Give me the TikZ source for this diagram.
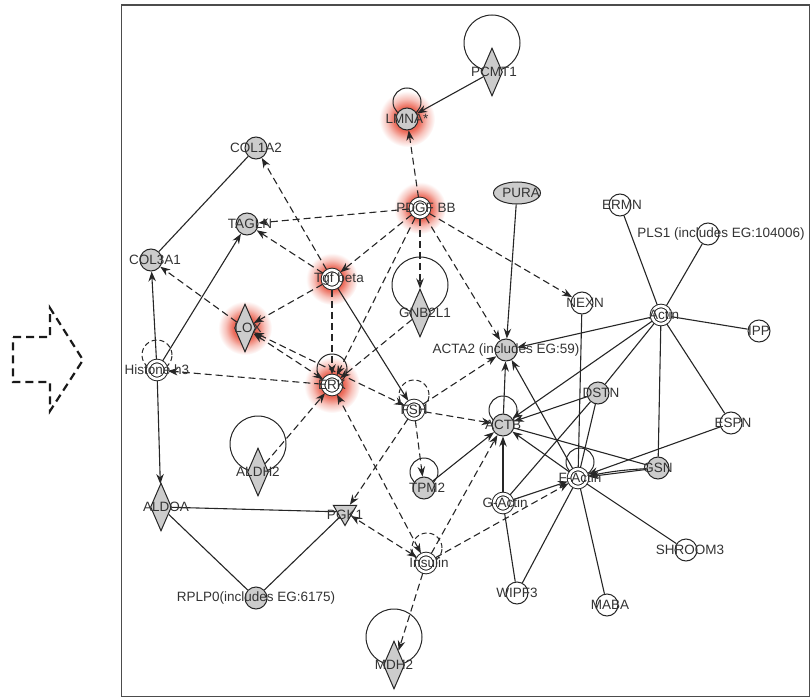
\documentclass[tikz,border=0pt]{standalone}
\usepackage{fontspec}
\setmainfont{Liberation Sans}
\usetikzlibrary{arrows.meta,shapes.geometric}
\definecolor{glowc}{RGB}{232,80,60}
\pgfdeclareradialshading{glow}{\pgfpointorigin}{color(0bp)=(glowc); color(11bp)=(glowc!85); color(18bp)=(glowc!35); color(25bp)=(white); color(50bp)=(white)}
\pgfdeclarelayer{bg}
\pgfsetlayers{bg,main}
\begin{document}
\begin{tikzpicture}[x=1pt,y=-1pt,
  lbl/.style={font=\fontsize{13.5}{16}\selectfont,text=black!80,inner sep=0pt},
  gene/.style={circle,draw=black!85,line width=1pt,fill=black!20,minimum size=22pt,inner sep=0pt},
  wgene/.style={gene,fill=white},
  cplx/.style={gene,fill=white,double=white,double distance=2.6pt,minimum size=18pt,outer sep=1.8pt},
  diam/.style={diamond,draw=black!85,line width=1pt,fill=black!20,minimum width=21pt,minimum height=48pt,inner sep=0pt},
  tri/.style={regular polygon,regular polygon sides=3,shape border rotate=180,draw=black!85,line width=1pt,fill=black!20,minimum size=27pt,inner sep=0pt},
  oval/.style={ellipse,draw=black!85,line width=1pt,fill=black!20,minimum width=47pt,minimum height=22pt,inner sep=0pt},
  rel/.style={line width=1.1pt,black!85},
  act/.style={rel,-{Stealth[length=10pt,width=7.5pt]}},
  dact/.style={act,dash pattern=on 7pt off 4pt},
  dboth/.style={dact,{Stealth[length=10pt,width=7.5pt]}-{Stealth[length=10pt,width=7.5pt]}},
  selfloop/.style={line width=1pt,black!85},
  dselfloop/.style={selfloop,dash pattern=on 5pt off 3pt}]
\useasboundingbox (0,0) rectangle (811,698);
\draw[black!70,line width=1.2pt] (121.5,5) rectangle (809.5,696.5);
\draw[line width=2.2pt,dash pattern=on 8pt off 5pt,black!90] (13,337) -- (50,337) -- (50,308) -- (83,360) -- (50,411) -- (50,382) -- (13,382) -- cycle;

\node[diam,label={[lbl,xshift=2pt]center:PCMT1}] (pcmt1) at (492,72) {};
\node[gene,label={[lbl]center:LMNA*}] (lmna) at (407,119) {};
\node[gene,label={[lbl]center:COL1A2}] (col1a2) at (256,148) {};
\node[cplx,label={[lbl,xshift=6pt]center:PDGF BB}] (pdgf) at (420,208) {};
\node[oval,label={[lbl,xshift=4pt]center:PURA}] (pura) at (517,193) {};
\node[wgene,label={[lbl,xshift=2pt]center:ERMN}] (ermn) at (620,205) {};
\node[wgene,label={[lbl,xshift=13pt]center:PLS1 (includes EG:104006)}] (pls1) at (708,234) {};
\node[gene,label={[lbl,xshift=3pt]center:TAGLN}] (tagln) at (247,224) {};
\node[gene,label={[lbl,xshift=4pt]center:COL3A1}] (col3a1) at (151,260) {};
\node[cplx,label={[lbl,xshift=7pt]center:Tgf beta}] (tgf) at (332,279) {};
\node[wgene,label={[lbl,xshift=3pt]center:NEXN}] (nexn) at (582,303) {};
\node[diam,label={[lbl,xshift=5pt]center:GNB2L1}] (gnb2l1) at (420,313) {};
\node[cplx,label={[lbl,xshift=3pt]center:Actin}] (actin) at (661,315) {};
\node[diam,label={[lbl,xshift=3pt]center:LOX}] (lox) at (245,328) {};
\node[wgene,label={[lbl]center:IPP}] (ipp) at (759,331) {};
\node[gene,label={[lbl]center:ACTA2 (includes EG:59)}] (acta2) at (506,350) {};
\node[cplx,label={[lbl]center:Histone h3}] (histone) at (157,370) {};
\node[cplx,label={[lbl]center:ERK}] (erk) at (332,385) {};
\node[gene,label={[lbl,xshift=3pt]center:DSTN}] (dstn) at (598,393) {};
\node[cplx,label={[lbl]center:FSH}] (fsh) at (414,410) {};
\node[wgene,label={[lbl,xshift=2pt]center:ESPN}] (espn) at (731,423) {};
\node[gene,label={[lbl]center:ACTB}] (actb) at (503,425) {};
\node[diam,label={[lbl]center:ALDH2}] (aldh2) at (258,472) {};
\node[gene,label={[lbl]center:GSN}] (gsn) at (658,468) {};
\node[cplx,label={[lbl,xshift=2pt]center:F-Actin}] (factin) at (578,478) {};
\node[gene,label={[lbl,xshift=3pt]center:TPM2}] (tpm2) at (424,488) {};
\node[cplx,label={[lbl,xshift=2pt]center:G-Actin}] (gactin) at (503,503) {};
\node[diam,label={[lbl,xshift=5pt]center:ALDOA}] (aldoa) at (161,507) {};
\node[tri,label={[lbl,yshift=-3pt]center:PGK1}] (pgk1) at (345,512) {};
\node[wgene,label={[lbl,xshift=4pt]center:SHROOM3}] (shroom3) at (686,550) {};
\node[cplx,label={[lbl,xshift=3pt]center:Insulin}] (insulin) at (426,563) {};
\node[wgene,label={[lbl]center:WIPF3}] (wipf3) at (517,593) {};
\node[gene,label={[lbl]center:RPLP0(includes EG:6175)}] (rplp0) at (256,598) {};
\node[wgene,label={[lbl,xshift=3pt]center:MABA}] (maba) at (607,605) {};
\node[diam,label={[lbl]center:MDH2}] (mdh2) at (394,665) {};

\begin{pgfonlayer}{bg}
\shade[shading=glow] (lmna) circle[radius=28pt];
\shade[shading=glow] (pdgf) circle[radius=26pt];
\shade[shading=glow] (tgf) circle[radius=26pt];
\shade[shading=glow] (lox) circle[radius=27pt];
\shade[shading=glow] (erk) circle[radius=28pt];

\draw[selfloop] ([yshift=29pt]pcmt1.center) circle[radius=28pt];
\draw[selfloop] ([yshift=28pt]gnb2l1.center) circle[radius=28pt];
\draw[selfloop] ([yshift=28pt]aldh2.center) circle[radius=28pt];
\draw[selfloop] ([yshift=28pt]mdh2.center) circle[radius=28pt];
\draw[selfloop] ([yshift=17pt]lmna.center) circle[radius=14pt];
\draw[selfloop] ([yshift=16pt]erk.center) circle[radius=15pt];
\draw[selfloop] ([yshift=16pt]tpm2.center) circle[radius=14pt];
\draw[selfloop] ([yshift=15pt]actb.center) circle[radius=14pt];
\draw[selfloop] ([yshift=16pt,xshift=2pt]factin.center) circle[radius=14pt];
\draw[dselfloop] ([yshift=15pt]histone.center) circle[radius=15pt];
\draw[dselfloop] ([yshift=15pt]fsh.center) circle[radius=15pt];
\draw[dselfloop] ([yshift=15pt,xshift=1pt]insulin.center) circle[radius=15pt];

\draw[rel] (col1a2) -- (col3a1);
\draw[rel] (aldoa) -- (pgk1);
\draw[rel] (aldoa) -- (rplp0);
\draw[rel] (rplp0) -- (pgk1);
\draw[rel] (ermn) -- (actin);
\draw[rel] (pls1) -- (actin);
\draw[rel] (actin) -- (ipp);
\draw[rel] (actin) -- (espn);
\draw[rel] (actin) -- (dstn);
\draw[rel] (dstn) -- (gactin);
\draw[rel] (actin) -- (gsn);
\draw[rel] (nexn) -- (factin);
\draw[rel] (dstn) -- (factin);
\draw[rel] (actb) -- (gsn);
\draw[rel] (factin) -- (wipf3);
\draw[rel] (factin) -- (maba);
\draw[rel] (factin) -- (shroom3);
\draw[rel] (gactin) -- (wipf3);

\draw[act] (pcmt1) -- (lmna);
\draw[act] (histone) -- (col3a1);
\draw[act] (histone) -- (tagln);
\draw[act] (histone) -- (aldoa);
\draw[act] (pura) -- (acta2);
\draw[act] (actin) -- (acta2);
\draw[act] (actin) -- (actb);
\draw[act] (actb) -- (acta2);
\draw[act] (factin) -- (acta2);
\draw[act] (factin) -- (actb);
\draw[act] (gactin) -- (actb);
\draw[act] (gactin) -- (factin);
\draw[act] (tpm2) -- (actb);
\draw[act] (dstn) -- (actb);
\draw[act] (gsn) -- (factin);
\draw[act] (gsn) to[bend right=4] (factin);
\draw[act] (espn) -- (factin);
\draw[act] (tgf) -- (fsh);

\draw[dact] (pdgf) -- (lmna);
\draw[dact] (pdgf) -- (tagln);
\draw[dact] (pdgf) -- (tgf);
\draw[dact] (pdgf) -- (gnb2l1);
\draw[dact] (pdgf) -- (acta2);
\draw[dact] (pdgf) -- (nexn);
\draw[dact] (pdgf) -- (erk);
\draw[dact] (tgf) -- (col1a2);
\draw[dact] (tgf) -- (tagln);
\draw[dact] (tgf) -- (lox);
\draw[dact] (tgf) -- (erk);
\draw[dact] (lox) -- (col3a1);
\draw[dboth] (lox) -- (erk);
\draw[dboth] (lox) -- (fsh);
\draw[dact] (erk) -- (histone);
\draw[dact] (gnb2l1) -- (erk);
\draw[dact] (aldh2) -- (erk);
\draw[dboth] (insulin) -- (erk);
\draw[dact] (fsh) -- (pgk1);
\draw[dact] (fsh) -- (tpm2);
\draw[dact] (fsh) -- (actb);
\draw[dact] (fsh) -- (acta2);
\draw[dboth] (insulin) -- (pgk1);
\draw[dact] (insulin) -- (actb);
\draw[dact] (insulin) -- (factin);
\draw[dact] (insulin) -- (mdh2);
\end{pgfonlayer}
\end{tikzpicture}
\end{document}
